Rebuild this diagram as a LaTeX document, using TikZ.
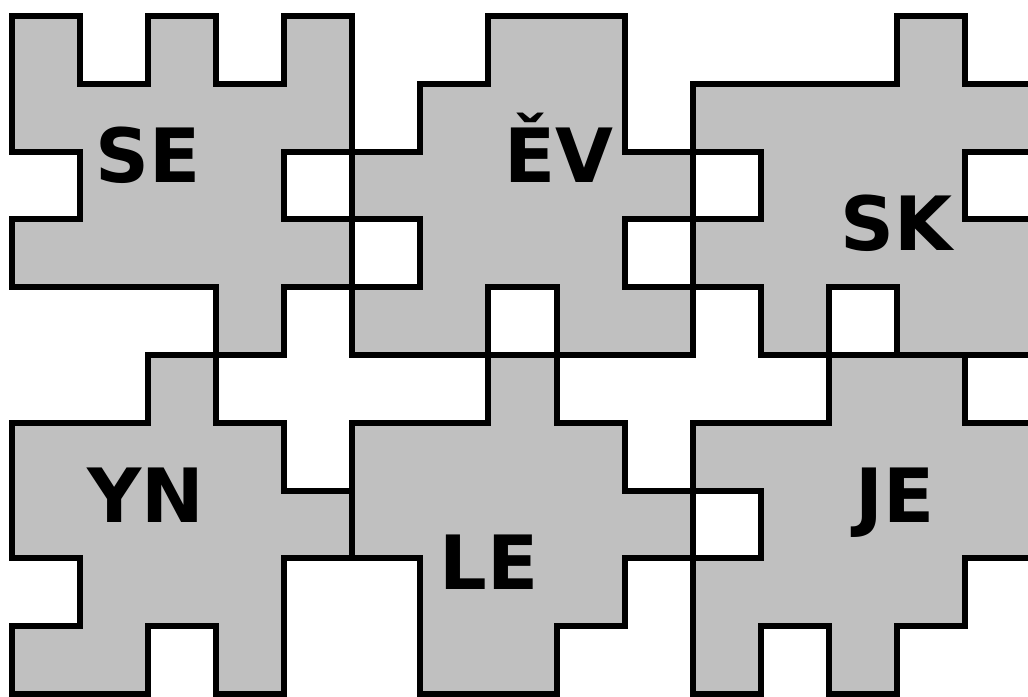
\documentclass[tikz,border=0pt]{standalone}
\usepackage{fontspec}
\newfontfamily\tagfont{DejaVu Sans}
\usepackage{tikz}
\definecolor{piecegray}{RGB}{192,192,192}

\begin{document}
\begin{tikzpicture}[x=1cm,y=-0.996cm,
  piece/.style={fill=piecegray,draw=black,line width=2.5pt},
  tag/.style={font=\tagfont\bfseries\fontsize{31.3}{31.3}\selectfont,text=black,inner sep=0pt,text height=22.8pt,text depth=0pt}]
\clip (-0.176,-0.236) rectangle (14.926,10.044);

\draw[piece] (0,0) -- (1,0) -- (1,1) -- (2,1) -- (2,0) -- (3,0) -- (3,1) -- (4,1) -- (4,0) -- (5,0) -- (5,2) -- (4,2) -- (4,3) -- (5,3) -- (5,4) -- (4,4) -- (4,5) -- (3,5) -- (3,4) -- (0,4) -- (0,3) -- (1,3) -- (1,2) -- (0,2) -- cycle;
\draw[piece] (7,0) -- (9,0) -- (9,2) -- (10,2) -- (10,3) -- (9,3) -- (9,4) -- (10,4) -- (10,5) -- (8,5) -- (8,4) -- (7,4) -- (7,5) -- (5,5) -- (5,4) -- (6,4) -- (6,3) -- (5,3) -- (5,2) -- (6,2) -- (6,1) -- (7,1) -- cycle;
\draw[piece] (13,0) -- (14,0) -- (14,1) -- (15,1) -- (15,2) -- (14,2) -- (14,3) -- (15,3) -- (15,5) -- (13,5) -- (13,4) -- (12,4) -- (12,5) -- (11,5) -- (11,4) -- (10,4) -- (10,3) -- (11,3) -- (11,2) -- (10,2) -- (10,1) -- (13,1) -- cycle;
\draw[piece] (2,5) -- (3,5) -- (3,6) -- (4,6) -- (4,7) -- (5,7) -- (5,8) -- (4,8) -- (4,10) -- (3,10) -- (3,9) -- (2,9) -- (2,10) -- (0,10) -- (0,9) -- (1,9) -- (1,8) -- (0,8) -- (0,6) -- (2,6) -- cycle;
\draw[piece] (7,5) -- (8,5) -- (8,6) -- (9,6) -- (9,7) -- (10,7) -- (10,8) -- (9,8) -- (9,9) -- (8,9) -- (8,10) -- (6,10) -- (6,8) -- (5,8) -- (5,6) -- (7,6) -- cycle;
\draw[piece] (12,5) -- (14,5) -- (14,6) -- (15,6) -- (15,8) -- (14,8) -- (14,9) -- (13,9) -- (13,10) -- (12,10) -- (12,9) -- (11,9) -- (11,10) -- (10,10) -- (10,8) -- (11,8) -- (11,7) -- (10,7) -- (10,6) -- (12,6) -- cycle;

\node[tag] (se) at (2,2.06) {SE};
\node[tag] (ev) at (8.03,2.06) {ĚV};
\node[tag] (sk) at (13,3.06) {SK};
\node[tag] (yn) at (1.97,7.07) {YN};
\node[tag] (le) at (7.01,8.06) {LE};
\node[tag] (je) at (12.97,7.07) {JE};

\end{tikzpicture}
\end{document}
